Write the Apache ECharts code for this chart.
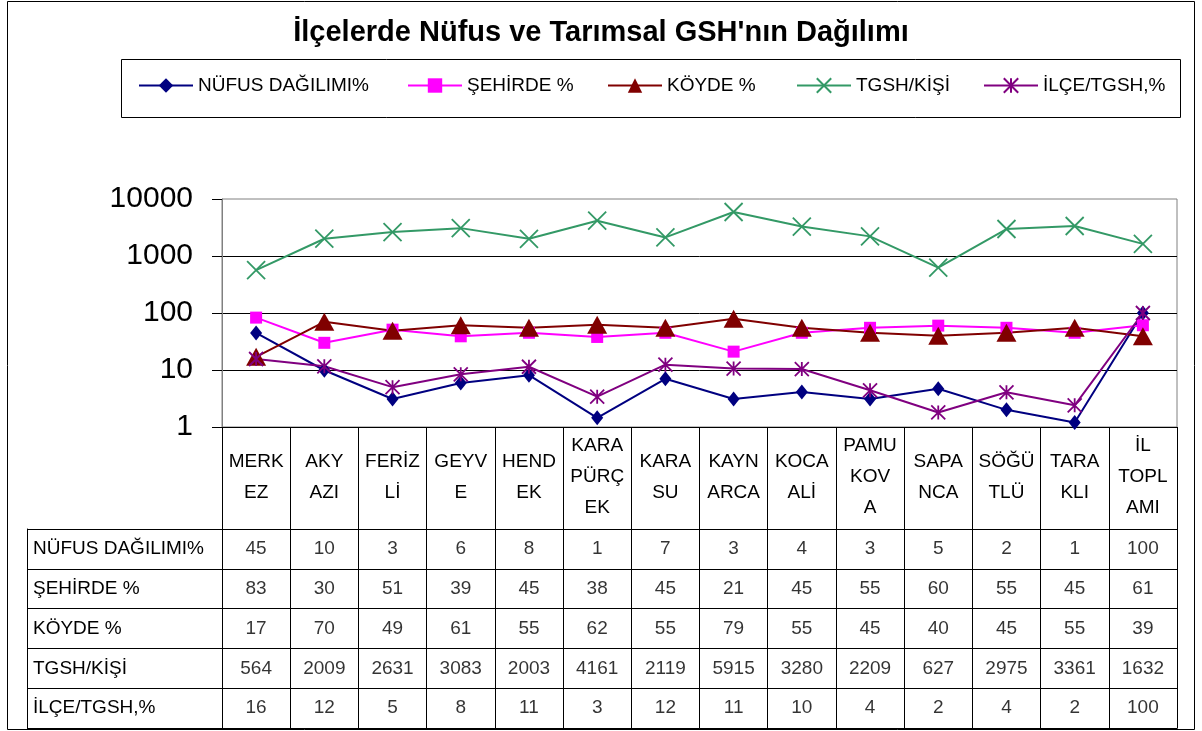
<!DOCTYPE html>
<html>
<head>
<meta charset="utf-8">
<title>İlçelerde Nüfus ve Tarımsal GSH'nın Dağılımı</title>
<script src="https://cdn.jsdelivr.net/npm/echarts@6/dist/echarts.min.js"></script>
<style>
html, body { margin: 0; padding: 0; background: #fff; }
#chart { width: 1202px; height: 731px; }
</style>
</head>
<body>
<div id="chart"></div>
<script>
// ilçeler (tablo başlığında kırılmış haliyle)
const categories = ['MERK\nEZ', 'AKY\nAZI', 'FERİZ\nLİ', 'GEYV\nE', 'HEND\nEK', 'KARA\nPÜRÇ\nEK', 'KARA\nSU',
  'KAYN\nARCA', 'KOCA\nALİ', 'PAMU\nKOV\nA', 'SAPA\nNCA', 'SÖĞÜ\nTLÜ', 'TARA\nKLI', 'İL\nTOPL\nAMI']
const rowNames = ['NÜFUS DAĞILIMI%', 'ŞEHİRDE %', 'KÖYDE %', 'TGSH/KİŞİ', 'İLÇE/TGSH,%']

const nufus = [44.6, 9.9, 3.1, 5.9, 8.1, 1.45, 7.0, 3.1, 4.1, 3.1, 4.7, 2.0, 1.2, 100]
const sehirde = [83, 30, 51, 39, 45, 38, 45, 21, 45, 55, 60, 55, 45, 61]
const koyde = [17, 70, 49, 61, 55, 62, 55, 79, 55, 45, 40, 45, 55, 39]
const tgsh = [564, 2009, 2631, 3083, 2003, 4161, 2119, 5915, 3280, 2209, 627, 2975, 3361, 1632]
const ilceTgsh = [15.6, 11.6, 5.0, 8.4, 11.4, 3.4, 12.4, 10.6, 10.4, 4.4, 1.8, 4.06, 2.4, 100]

const FONT = '"Liberation Sans", Arial, sans-serif'
const X_MARK = 'path://M0,0L10,10M10,0L0,10'
const STAR_MARK = 'path://M0,0L10,10M10,0L0,10M5,0L5,10'

const seriesDefs = [
  { name: rowNames[0], data: nufus, color: '#000080', symbol: 'diamond', size: [12, 15] },
  { name: rowNames[1], data: sehirde, color: '#FF00FF', symbol: 'rect', size: 12 },
  { name: rowNames[2], data: koyde, color: '#800000', symbol: 'triangle', size: [20, 18] },
  { name: rowNames[3], data: tgsh, color: '#339966', symbol: X_MARK, size: 18, stroke: true },
  { name: rowNames[4], data: ilceTgsh, color: '#800080', symbol: STAR_MARK, size: 14, stroke: true }
]
const legendLefts = [138, 407, 607, 796, 983]

const lineSeries = seriesDefs.map(s => ({
  name: s.name,
  type: 'line',
  xAxisIndex: 0,
  yAxisIndex: 0,
  data: s.data,
  symbol: s.symbol,
  symbolSize: s.size,
  showAllSymbol: true,
  lineStyle: { color: s.color, width: 2 },
  itemStyle: s.stroke
    ? { color: 'rgba(0,0,0,0)', borderColor: s.color, borderWidth: 1.8 }
    : { color: s.color, borderWidth: 0 }
}))

// tablo hücreleri
const tableCells = []
seriesDefs.forEach((s, r) => {
  s.data.forEach((v, i) => {
    tableCells.push([i, r, String(Math.round(v))])
  })
})

const chart = echarts.init(document.getElementById('chart'))
chart.setOption({
  animation: false,
  backgroundColor: '#fff',
  textStyle: { fontFamily: FONT },
  title: {
    text: "İlçelerde Nüfus ve Tarımsal GSH'nın Dağılımı",
    left: 'center',
    top: 18,
    padding: 0,
    textStyle: { fontSize: 29, fontWeight: 'bold', color: '#000', fontFamily: FONT }
  },
  legend: seriesDefs.map((s, i) => ({
    data: [s.name],
    left: legendLefts[i],
    top: 76,
    padding: 0,
    itemWidth: 54,
    itemHeight: 18,
    selectedMode: false,
    textStyle: { fontSize: 19, color: '#000', fontFamily: FONT }
  })),
  graphic: [
    { type: 'rect', shape: { x: 7.5, y: 1.5, width: 1187, height: 728 }, style: { fill: 'none', stroke: '#000', lineWidth: 1 }, silent: true },
    { type: 'rect', shape: { x: 121.5, y: 59.5, width: 1059, height: 58 }, style: { fill: 'none', stroke: '#000', lineWidth: 1 }, silent: true }
  ],
  grid: [
    { left: 222, right: 25, top: 199, height: 228, show: true, borderColor: '#808080', borderWidth: 1 },
    { left: 222, right: 25, top: 529, height: 199 }
  ],
  xAxis: [
    {
      type: 'category',
      gridIndex: 0,
      data: categories,
      boundaryGap: true,
      axisLine: { show: true, lineStyle: { color: '#000' } },
      axisTick: { show: true, length: 102, interval: 0, lineStyle: { color: '#000' } },
      axisLabel: { interval: 0, margin: 50, verticalAlign: 'middle', lineHeight: 31, fontSize: 19, color: '#000', fontFamily: FONT },
      splitLine: { show: false }
    },
    {
      type: 'category',
      gridIndex: 1,
      data: categories,
      boundaryGap: true,
      axisLine: { show: true, lineStyle: { color: '#000' } },
      axisTick: { show: false },
      axisLabel: { show: false },
      splitLine: { show: true, interval: 0, lineStyle: { color: '#000' } }
    }
  ],
  yAxis: [
    {
      type: 'log',
      logBase: 10,
      min: 1,
      max: 10000,
      gridIndex: 0,
      axisLine: { show: true, lineStyle: { color: '#808080' } },
      axisTick: { show: true, length: 10, lineStyle: { color: '#000' } },
      axisLabel: { fontSize: 30, margin: 29, color: '#000', fontFamily: FONT, formatter: v => String(Math.round(v)) },
      splitLine: { show: true, showMaxLine: false, showMinLine: false, lineStyle: { color: '#000' } }
    },
    {
      type: 'category',
      gridIndex: 1,
      data: rowNames,
      inverse: true,
      axisLine: { show: true, lineStyle: { color: '#000' } },
      axisTick: { show: true, length: 195, interval: 0, lineStyle: { color: '#000' } },
      axisLabel: { interval: 0, margin: 189, align: 'left', fontSize: 19, color: '#000', fontFamily: FONT },
      splitLine: { show: true, interval: 0, lineStyle: { color: '#000' } }
    },
    {
      type: 'category',
      gridIndex: 1,
      data: rowNames,
      position: 'left',
      offset: 195,
      axisLine: { show: true, lineStyle: { color: '#000' } },
      axisTick: { show: false },
      axisLabel: { show: false },
      splitLine: { show: false }
    },
    {
      type: 'category',
      gridIndex: 1,
      data: rowNames,
      position: 'right',
      axisLine: { show: true, lineStyle: { color: '#000' } },
      axisTick: { show: false },
      axisLabel: { show: false },
      splitLine: { show: false }
    }
  ],
  series: lineSeries.concat([{
    type: 'scatter',
    xAxisIndex: 1,
    yAxisIndex: 1,
    data: tableCells,
    symbolSize: 1,
    silent: true,
    itemStyle: { color: 'rgba(0,0,0,0)' },
    label: {
      show: true,
      position: 'inside',
      formatter: p => p.value[2],
      fontSize: 19,
      color: '#000',
      fontFamily: FONT
    }
  }])
})
</script>
</body>
</html>
